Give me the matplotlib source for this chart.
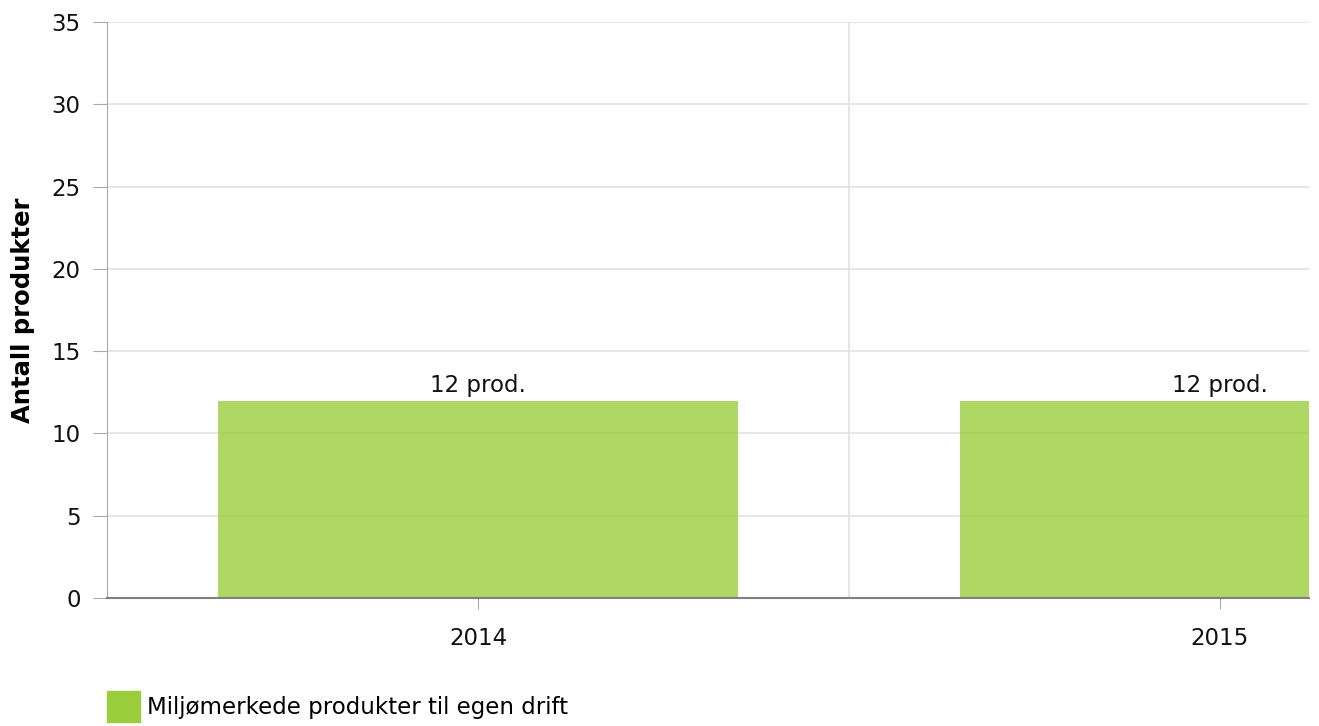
import numpy as np
import matplotlib.pyplot as plt

years = ['2014', '2015']
values = [12, 12]
labels = ['12 prod.', '12 prod.']
series_name = 'Miljømerkede produkter til egen drift'

plt.rcParams['font.family'] = ['DejaVu Sans']

fig = plt.figure(figsize=(13.19, 7.26), dpi=100)
ax = fig.add_axes([107/1319, 1 - 598/726, (1309 - 107)/1319, (598 - 22)/726])

x = np.arange(len(years))
bars = ax.bar(x, values, width=0.7, color='#9acd3c', alpha=0.8, zorder=2,
              label=series_name)
for xi, v, lab in zip(x, values, labels):
    ax.text(xi, v + 0.2, lab, ha='center', va='bottom', fontsize=16.5, color='#111111')

ax.set_xlim(-0.5, 0.5 + (1309 - 849)/742)
ax.set_ylim(0, 35)
ax.set_yticks(range(0, 36, 5))
ax.set_xticks(x)
ax.set_xticklabels(years)

ax.yaxis.grid(True, color='#e3e3e3', linewidth=1.2, zorder=0)
ax.axvline(0.5, color='#e0e0e0', linewidth=1.2, zorder=0)
ax.set_axisbelow(True)

for s in ['top', 'right']:
    ax.spines[s].set_visible(False)
ax.spines['left'].set_color('#aaaaaa')
ax.spines['bottom'].set_color('#808080')
ax.spines['bottom'].set_linewidth(1.5)
ax.spines['bottom'].set_zorder(3)

ax.tick_params(axis='y', length=10, color='#aaaaaa', labelsize=16.5, pad=9, labelcolor='#111111')
ax.tick_params(axis='x', length=8, color='#aaaaaa', labelsize=16.5, pad=13, labelcolor='#111111')

ax.set_ylabel('Antall produkter', fontsize=17.5, fontweight='bold')
ax.yaxis.set_label_coords(-72/1202, 0.5)

leg = fig.legend(handles=[plt.Rectangle((0, 0), 1, 1, color='#9acd3c')], labels=[series_name],
                 loc='lower left', bbox_to_anchor=(93/1319, -10/726), frameon=False,
                 handlelength=1.45, handleheight=1.75, handletextpad=0.3, borderpad=0.1,
                 fontsize=16.5)

fig.savefig('out.png', dpi=100)
